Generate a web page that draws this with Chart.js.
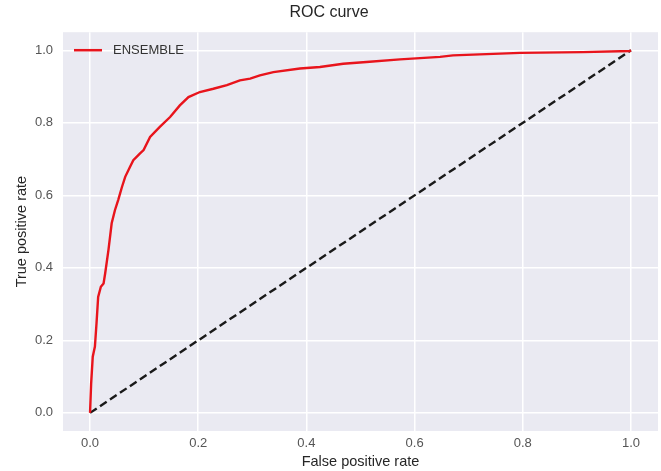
<!DOCTYPE html>
<html>
<head>
<meta charset="utf-8">
<script src="https://cdn.jsdelivr.net/npm/chart.js@4/dist/chart.umd.min.js"></script>
<style>
  html, body { margin: 0; padding: 0; background: #fff; }
  #roc { display: block; }
</style>
</head>
<body>
<canvas id="roc" width="661" height="471"></canvas>
<script>
  'use strict';

  // False / true positive rates.
  const fpr = [0, 0.002, 0.005, 0.009, 0.012, 0.015, 0.020, 0.025, 0.028, 0.034,
    0.040, 0.046, 0.052, 0.059, 0.065, 0.074, 0.080, 0.092, 0.099, 0.111,
    0.129, 0.148, 0.166, 0.182, 0.203, 0.228, 0.253, 0.277, 0.296, 0.314,
    0.339, 0.388, 0.425, 0.468, 0.511, 0.573, 0.647, 0.671, 0.795, 0.911,
    0.998, 1.0];
  const tpr = [0, 0.08, 0.155, 0.183, 0.248, 0.32, 0.348, 0.357, 0.385, 0.449,
    0.523, 0.559, 0.587, 0.623, 0.651, 0.679, 0.697, 0.715, 0.725, 0.761,
    0.789, 0.816, 0.848, 0.871, 0.885, 0.894, 0.904, 0.917, 0.922, 0.931,
    0.940, 0.950, 0.954, 0.963, 0.968, 0.975, 0.982, 0.986, 0.993, 0.995,
    0.998, 1.0];

  // Chance line.
  const chanceX = [0, 1];
  const chanceY = [0, 1];

  const tickValues = [0, 0.2, 0.4, 0.6, 0.8, 1.0];

  const FONT = "'Liberation Sans', Arial, sans-serif";

  const toPoints = (xs, ys) => xs.map((x, i) => ({ x, y: ys[i] }));

  // Grey seaborn-style plot background.
  const plotBg = {
    id: 'plotBg',
    beforeDraw(chart) {
      const { ctx, chartArea: a } = chart;
      ctx.save();
      ctx.fillStyle = '#eaeaf2';
      ctx.fillRect(a.left, a.top, a.right - a.left, a.bottom - a.top);
      ctx.restore();
    },
  };

  // Legend drawn inside the upper-left corner of the plot area.
  const innerLegend = {
    id: 'innerLegend',
    afterDraw(chart) {
      const { ctx, chartArea: a } = chart;
      const ds = chart.data.datasets[0];
      const y = a.top + 18;
      ctx.save();
      ctx.strokeStyle = ds.borderColor;
      ctx.lineWidth = 2.5;
      ctx.beginPath();
      ctx.moveTo(a.left + 11, y);
      ctx.lineTo(a.left + 39, y);
      ctx.stroke();
      ctx.fillStyle = '#333';
      ctx.font = `13px ${FONT}`;
      ctx.textBaseline = 'middle';
      ctx.fillText(ds.label, a.left + 50, y);
      ctx.restore();
    },
  };

  const setTicks = (axis) => {
    axis.ticks = tickValues.map((v) => ({ value: v }));
  };

  new Chart(document.getElementById('roc'), {
    type: 'scatter',
    data: {
      datasets: [
        {
          label: 'ENSEMBLE',
          data: toPoints(fpr, tpr),
          showLine: true,
          borderColor: '#e8141c',
          borderWidth: 2.4,
          pointRadius: 0,
          tension: 0,
          order: 1,
        },
        {
          label: 'chance',
          data: toPoints(chanceX, chanceY),
          showLine: true,
          borderColor: '#1a1a1a',
          borderWidth: 2.4,
          borderDash: [8, 4],
          pointRadius: 0,
          order: 2,
        },
      ],
    },
    options: {
      responsive: false,
      animation: false,
      layout: { padding: { left: 0, right: 3, top: 0, bottom: 0 } },
      plugins: {
        legend: { display: false },
        tooltip: { enabled: false },
        title: {
          display: true,
          text: 'ROC curve',
          color: '#262626',
          font: { family: FONT, size: 16, weight: 'normal' },
          padding: { top: 3, bottom: 10 },
        },
      },
      scales: {
        x: {
          type: 'linear',
          min: -0.05,
          max: 1.05,
          afterBuildTicks: setTicks,
          afterFit(scale) { scale.height = 40; },
          grid: { color: '#ffffff', lineWidth: 1.5, drawTicks: false },
          border: { display: false },
          ticks: {
            color: '#555',
            padding: 5,
            font: { family: FONT, size: 13 },
            callback: (v) => v.toFixed(1),
          },
          title: {
            display: true,
            text: 'False positive rate',
            color: '#262626',
            font: { family: FONT, size: 14.5 },
            padding: { top: 0, bottom: 0 },
          },
        },
        y: {
          type: 'linear',
          min: -0.05,
          max: 1.05,
          afterBuildTicks: setTicks,
          afterFit(scale) { scale.width = 63; },
          grid: { color: '#ffffff', lineWidth: 1.5, drawTicks: false },
          border: { display: false },
          ticks: {
            color: '#555',
            padding: 10,
            font: { family: FONT, size: 13 },
            callback: (v) => v.toFixed(1),
          },
          title: {
            display: true,
            text: 'True positive rate',
            color: '#262626',
            font: { family: FONT, size: 14.5 },
            padding: { top: 13, bottom: 0 },
          },
        },
      },
    },
    plugins: [plotBg, innerLegend],
  });
</script>
</body>
</html>
